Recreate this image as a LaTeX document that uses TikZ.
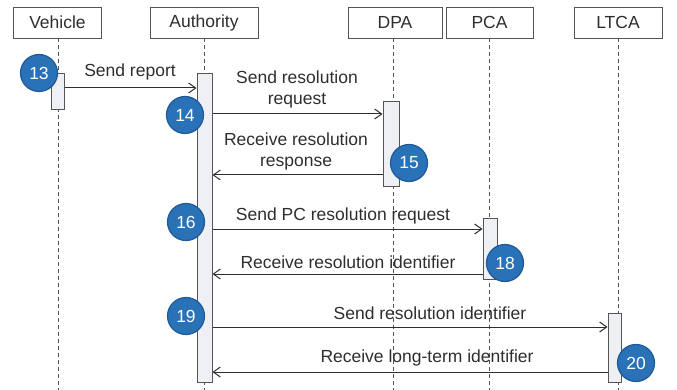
\documentclass[tikz,border=0pt]{standalone}
\usepackage{fontspec}
\setmainfont{Liberation Sans}
\usetikzlibrary{arrows.meta}
\definecolor{txt}{HTML}{2E2E2E}
\definecolor{bord}{HTML}{555555}
\definecolor{actfill}{HTML}{EEF0F3}
\definecolor{cfill}{HTML}{2A72B8}
\definecolor{cbord}{HTML}{1E5A96}
\tikzset{
  hdr/.style={draw=bord, line width=0.9pt, fill=white, minimum height=31pt, inner sep=0pt, text=txt, font=\fontsize{17.5}{21}\selectfont},
  life/.style={draw=bord, line width=0.8pt, dash pattern=on 4pt off 3pt},
  act/.style={draw=bord, line width=1pt, fill=actfill},
  msg/.style={draw=txt, line width=1pt, -{Straight Barb[length=7pt,width=10pt,line width=1pt]}},
  lbl/.style={text=txt, font=\fontsize{17.5}{21.5}\selectfont, align=center, inner sep=0pt},
  num/.style={circle, fill=cfill, draw=cbord, line width=1.2pt, minimum size=37pt, inner sep=0pt, text=white, font=\fontsize{17.5}{20}\selectfont},
}
\begin{document}
\begin{tikzpicture}[x=1pt,y=-1pt]
\useasboundingbox (0,0) rectangle (677,390);
% headers
\node[hdr, minimum width=88pt] (veh) at (57.5,22.5) {Vehicle};
\node[hdr, minimum width=108pt] (aut) at (204,22.5) {Authority};
\node[hdr, minimum width=94pt] (dpa) at (395,22.5) {DPA};
\node[hdr, minimum width=87pt] (pca) at (489.5,22.5) {PCA};
\node[hdr, minimum width=88pt] (ltca) at (618,22.5) {LTCA};
% lifeline ends
\coordinate (vehE) at (58,390);
\coordinate (autE) at (204,390);
\coordinate (dpaE) at (393,390);
\coordinate (pcaE) at (489,390);
\coordinate (ltcaE) at (618,390);
\draw[life] (veh.south -| vehE) -- (vehE);
\draw[life] (aut.south -| autE) -- (autE);
\draw[life] (dpa.south -| dpaE) -- (dpaE);
\draw[life] (pca.south -| pcaE) -- (pcaE);
\draw[life] (ltca.south -| ltcaE) -- (ltcaE);
% activations
\node[act, minimum width=13pt, minimum height=36pt, inner sep=0pt, anchor=north] (actV) at (57.5,73) {};
\node[act, minimum width=15pt, minimum height=309pt, inner sep=0pt, anchor=north] (actA) at (204.5,73) {};
\node[act, minimum width=16pt, minimum height=85pt, inner sep=0pt, anchor=north] (actD) at (391,101) {};
\node[act, minimum width=14pt, minimum height=61pt, inner sep=0pt, anchor=north] (actP) at (490,218) {};
\node[act, minimum width=13pt, minimum height=69pt, inner sep=0pt, anchor=north] (actL) at (614.5,313) {};
% messages
\draw[msg] (actV.east |- 0,88) -- (actA.west |- 0,88);
\node[lbl] (l1) at (130,72) {Send report};
\draw[msg] (actA.east |- 0,114) -- (actD.west |- 0,114);
\node[lbl] (l2) at (297,89.5) {Send resolution\\request};
\draw[msg] (actD.west |- 0,175) -- (actA.east |- 0,175);
\node[lbl] (l3) at (296,151.5) {Receive resolution\\response};
\draw[msg] (actA.east |- 0,229) -- (actP.west |- 0,229);
\node[lbl] (l4) at (343,216) {Send PC resolution request};
\draw[msg] (actP.west |- 0,274) -- (actA.east |- 0,274);
\node[lbl] (l5) at (348,262) {Receive resolution identifier};
\draw[msg] (actA.east |- 0,327) -- (actL.west |- 0,327);
\node[lbl] (l6) at (430,313) {Send resolution identifier};
\draw[msg] (actL.west |- 0,372) -- (actA.east |- 0,372);
\node[lbl] (l7) at (427,358) {Receive long-term identifier};
% numbers
\node[num] (n13) at (39,73) {13};
\node[num] (n14) at (185,115) {14};
\node[num] (n15) at (409,163) {15};
\node[num] (n16) at (186,222) {16};
\node[num] (n18) at (505,263) {18};
\node[num] (n19) at (186,316) {19};
\node[num] (n20) at (636,363) {20};
\end{tikzpicture}
\end{document}
